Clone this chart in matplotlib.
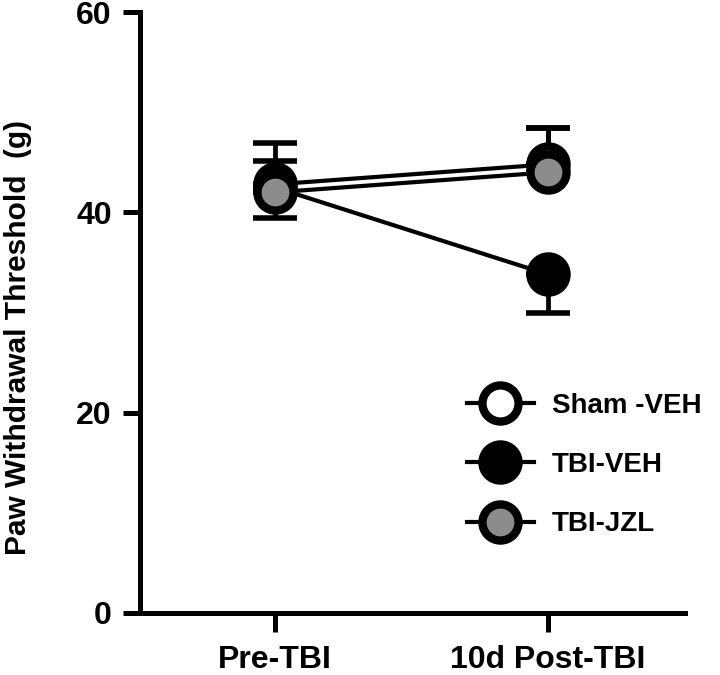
import matplotlib.pyplot as plt
from matplotlib.lines import Line2D

plt.rcParams['font.family'] = ['Liberation Sans', 'DejaVu Sans']
plt.rcParams['font.weight'] = 'bold'

# data (error bars drawn one-sided, as in the original)
timepoints = ["Pre-TBI", "10d Post-TBI"]
groups = ["Sham -VEH", "TBI-VEH", "TBI-JZL"]
sham_mean = [42.8, 44.8]
sham_err_lo = [0.0, 0.0]
sham_err_hi = [4.1, 3.6]
tbi_veh_mean = [42.5, 33.8]
tbi_veh_err_lo = [0.0, 3.8]
tbi_veh_err_hi = [2.6, 0.0]
tbi_jzl_mean = [42.0, 44.0]
tbi_jzl_err_lo = [2.6, 0.0]
tbi_jzl_err_hi = [0.0, 4.4]
fills = ["white", "black", "#8c8c8c"]

fig = plt.figure(figsize=(7.2, 6.75), dpi=100)
ax = fig.add_axes([0.194, 0.092, 0.757, 0.890])

x = list(range(len(timepoints)))
series = [(sham_mean, sham_err_lo, sham_err_hi),
          (tbi_veh_mean, tbi_veh_err_lo, tbi_veh_err_hi),
          (tbi_jzl_mean, tbi_jzl_err_lo, tbi_jzl_err_hi)]
mk = dict(marker="o", ms=26, mec="black", mew=6)
handles = []
for (m, lo, hi), name, fc in zip(series, groups, fills):
    ax.errorbar(x, m, yerr=[lo, hi], fmt="none", ecolor="black",
                elinewidth=3.4, capsize=16, capthick=4, zorder=2)
    ax.plot(x, m, color="black", lw=3, mfc=fc, zorder=3, **mk)
    handles.append(Line2D([], [], color="black", lw=3, mfc=fc, **mk))

ax.set_xlim(-0.495, 1.5)
ax.set_ylim(0, 60)
ax.set_yticks([0, 20, 40, 60])
ax.set_xticks(x)
ax.set_xticklabels(timepoints)
ax.set_ylabel("Paw Withdrawal Threshold  (g)", fontsize=21.5, fontweight="bold")
ax.yaxis.set_label_coords(-0.198, 0.459)

for s in ["top", "right"]:
    ax.spines[s].set_visible(False)
for s in ["left", "bottom"]:
    ax.spines[s].set_linewidth(3.6)
ax.tick_params(axis="both", width=3.6, length=12, labelsize=23, pad=8)
ax.tick_params(axis="x", length=14, pad=9)

ax.legend(handles, groups, loc="center left", bbox_to_anchor=(467 / 720, 1 - 465 / 675),
          bbox_transform=fig.transFigure, frameon=False, fontsize=20,
          handlelength=2.4, handletextpad=0.65, labelspacing=1.2,
          borderpad=0, borderaxespad=0)

fig.savefig("out.png", dpi=100)
